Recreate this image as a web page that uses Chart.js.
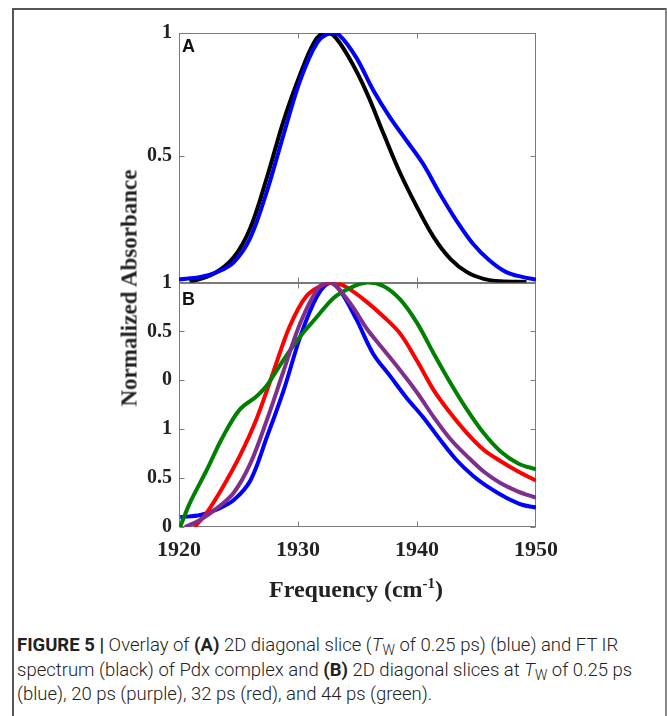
<!DOCTYPE html>
<html>
<head>
<meta charset="utf-8">
<script src="https://cdn.jsdelivr.net/npm/chart.js@4.4.0/dist/chart.umd.min.js"></script>
<style>
  body { margin: 0; background: #fff; width: 667px; height: 716px; overflow: hidden; position: relative; }
  #frame { position: absolute; left: 12px; top: 8px; width: 651px; height: 760px; border: 2px solid #555; border-right-color: #888; }
  #wrap { position: absolute; left: 0; top: 0; width: 600px; height: 610px; }
  .serif { position: absolute; white-space: nowrap; font-family: "Liberation Serif", "DejaVu Serif", serif; font-weight: bold; color: #222; line-height: 1; }
  #ytitle { font-size: 23px; left: 129px; top: 288px; transform: translate(-50%, -50%) rotate(-90deg); }
  #xtitle { font-size: 24px; left: 356px; top: 589px; transform: translate(-50%, -50%); }
  #xtitle sup { font-size: 0.62em; line-height: 0; vertical-align: 0.6em; }
  .panel { position: absolute; font-family: "Liberation Sans", Arial, sans-serif; font-weight: bold; font-size: 18px; line-height: 18px; color: #111; }
  #caption { position: absolute; left: 17px; top: 633px; font-family: Roboto, "Liberation Sans", sans-serif; font-weight: 300; font-size: 18.5px; line-height: 24.5px; color: #222; white-space: nowrap; }
  #caption b { font-weight: 700; }
  #caption sub { font-size: 0.75em; line-height: 0; vertical-align: -0.3em; }
</style>
</head>
<body>
<div id="frame"></div>
<div id="wrap"><canvas id="chart" width="600" height="610"></canvas></div>
<div class="serif" id="ytitle">Normalized Absorbance</div>
<div class="serif" id="xtitle">Frequency (cm<sup>-1</sup>)</div>
<div class="panel" style="left:182px; top:37px;">A</div>
<div class="panel" style="left:182px; top:290px;">B</div>
<div id="caption">
<b>FIGURE 5 |</b> Overlay of <b>(A)</b> 2D diagonal slice (<i>T</i><sub>W</sub> of 0.25 ps) (blue) and FT IR<br>
spectrum (black) of Pdx complex and <b>(B)</b> 2D diagonal slices at <i>T</i><sub>W</sub> of 0.25 ps<br>
(blue), 20 ps (purple), 32 ps (red), and 44 ps (green).
</div>
<script>
// tick values / labels
const xTicks = [1920, 1930, 1940, 1950];
const tickValsA = [0.5, 1];
const tickLabelsA = ["0.5", "1"];
const tickValsB = [0, 0.2, 0.4, 0.6, 0.8, 1];
const tickLabelsB = ["0", "0.5", "1", "0", "0.5", "1"];

// --- Panel A ---
// FT IR spectrum (black)
const freqFtir = [1920.9, 1922.9, 1924.6, 1926.0, 1927.4, 1928.8, 1930.2, 1931.3, 1932.1, 1933.0, 1934.4,
  1935.8, 1937.2, 1938.6, 1940.0, 1941.4, 1942.8, 1944.2, 1945.6, 1947.0, 1949.2];
const absFtir = [-0.01, 0.023, 0.09, 0.21, 0.416, 0.646, 0.835, 0.958, 1.0, 0.99, 0.89,
  0.755, 0.59, 0.43, 0.294, 0.172, 0.084, 0.03, 0.003, -0.007, -0.01];
// 2D diagonal slice, Tw = 0.25 ps (blue)
const freqSliceA = [1920.0, 1921.8, 1923.2, 1924.6, 1926.0, 1927.4, 1928.8, 1930.2, 1931.6, 1932.7, 1933.5,
  1934.9, 1936.3, 1937.7, 1939.1, 1940.5, 1941.9, 1943.3, 1944.7, 1946.1, 1947.5, 1948.9, 1950.0];
const absSliceA = [0.0, 0.01, 0.03, 0.07, 0.17, 0.36, 0.59, 0.81, 0.96, 1.0, 0.99,
  0.90, 0.77, 0.66, 0.565, 0.47, 0.35, 0.24, 0.145, 0.077, 0.03, 0.01, 0.0];

// --- Panel B ---
// 0.25 ps (blue)
const freqB025 = [1920.1, 1921.8, 1923.2, 1924.6, 1926.0, 1927.4, 1928.8, 1930.2, 1931.6, 1932.7, 1933.5,
  1934.9, 1936.3, 1937.7, 1939.1, 1940.5, 1941.9, 1943.3, 1944.7, 1946.1, 1947.5, 1948.9, 1950.0];
const absB025 = [0.04, 0.049, 0.072, 0.11, 0.19, 0.37, 0.56, 0.78, 0.944, 1.0, 0.97,
  0.85, 0.71, 0.62, 0.53, 0.45, 0.36, 0.275, 0.21, 0.16, 0.12, 0.09, 0.08];
// 20 ps (purple)
const freqB20 = [1920.5, 1921.8, 1923.2, 1924.6, 1926.0, 1927.4, 1928.8, 1930.2, 1931.6, 1932.4, 1933.2,
  1934.6, 1935.8, 1937.2, 1938.6, 1940.0, 1941.4, 1942.8, 1944.2, 1945.6, 1947.0, 1948.5, 1950.0];
const absB20 = [0.0, 0.03, 0.077, 0.14, 0.26, 0.44, 0.64, 0.835, 0.97, 1.0, 0.985,
  0.90, 0.81, 0.725, 0.64, 0.55, 0.45, 0.36, 0.29, 0.227, 0.18, 0.145, 0.12];
// 32 ps (red)
const freqB32 = [1921.3, 1922.3, 1923.7, 1925.1, 1926.5, 1927.9, 1929.3, 1930.7, 1932.1, 1933.0, 1934.1,
  1935.8, 1937.2, 1938.6, 1940.0, 1941.4, 1942.8, 1944.2, 1945.6, 1947.0, 1948.5, 1950.0];
const absB32 = [0.0, 0.056, 0.165, 0.29, 0.44, 0.63, 0.82, 0.944, 0.99, 1.0, 0.98,
  0.92, 0.86, 0.79, 0.68, 0.56, 0.466, 0.384, 0.316, 0.27, 0.227, 0.19];
// 44 ps (green)
const freqB44 = [1920.1, 1920.9, 1922.3, 1923.7, 1925.1, 1926.5, 1927.4, 1928.8, 1930.2, 1931.6, 1933.0,
  1934.4, 1935.8, 1937.2, 1938.6, 1940.0, 1941.4, 1942.8, 1944.2, 1945.6, 1947.0, 1948.5, 1950.0];
const absB44 = [0.0, 0.097, 0.23, 0.37, 0.48, 0.534, 0.58, 0.685, 0.78, 0.86, 0.937,
  0.978, 1.0, 0.985, 0.93, 0.835, 0.71, 0.59, 0.48, 0.384, 0.31, 0.26, 0.236];

const serif = "'Liberation Serif', 'DejaVu Serif', serif";

function pts(xs, ys) {
  return xs.map((x, i) => ({ x: x, y: ys[i] }));
}

function line(data, color, axis) {
  return {
    data: data,
    yAxisID: axis,
    borderColor: color,
    borderWidth: 4,
    pointRadius: 0,
    fill: false,
    tension: 0.35,
  };
}

// box around each panel with inward ticks, matlab style
const framePlugin = {
  id: "framePlugin",
  beforeDatasetsDraw(chart) {
    const { ctx, chartArea: ca, scales } = chart;
    ctx.save();
    ctx.strokeStyle = "#7a7a7a";
    ctx.lineWidth = 1;
    const seg = (x1, y1, x2, y2) => {
      ctx.beginPath();
      ctx.moveTo(x1, y1);
      ctx.lineTo(x2, y2);
      ctx.stroke();
    };
    [scales.yA, scales.yB].forEach((ys) => {
      const top = Math.round(ys.top) + 0.5;
      const bot = Math.round(ys.bottom) - 0.5;
      const left = Math.round(ca.left) + 0.5;
      const right = Math.round(ca.right) - 0.5;
      ctx.strokeRect(left, top, right - left, bot - top);
      xTicks.slice(1, -1).forEach((v) => {
        const x = Math.round(scales.x.getPixelForValue(v)) + 0.5;
        seg(x, top, x, top + 5);
        seg(x, bot, x, bot - 5);
      });
      ys.ticks.forEach((t) => {
        const y = Math.round(ys.getPixelForValue(t.value)) + 0.5;
        seg(left, y, left + 5, y);
        seg(right, y, right - 5, y);
      });
    });
    ctx.restore();
  },
};

const tickFont = { family: serif, weight: "bold", size: 20 };

new Chart(document.getElementById("chart"), {
  type: "line",
  data: {
    datasets: [
      line(pts(freqSliceA, absSliceA), "#0000ff", "yA"),
      line(pts(freqFtir, absFtir), "#000000", "yA"),
      line(pts(freqB20, absB20), "#7e2f8e", "yB"),
      line(pts(freqB44, absB44), "#008000", "yB"),
      line(pts(freqB32, absB32), "#ff0000", "yB"),
      line(pts(freqB025, absB025), "#0000ff", "yB"),
    ],
  },
  options: {
    responsive: false,
    devicePixelRatio: 1,
    animation: false,
    layout: { padding: { top: 33, right: 64, left: 0, bottom: 0 } },
    plugins: { legend: { display: false }, tooltip: { enabled: false } },
    scales: {
      x: {
        type: "linear",
        min: 1920,
        max: 1950,
        afterBuildTicks: (s) => { s.ticks = xTicks.map((v) => ({ value: v })); },
        afterFit: (s) => { s.height = 83; },
        grid: { display: false, drawTicks: false },
        border: { display: false },
        ticks: { padding: 10, maxRotation: 0, autoSkip: false, color: "#222",
          font: { family: serif, weight: "bold", size: 22 }, callback: (v) => String(v) },
      },
      yB: {
        type: "linear",
        position: "left",
        stack: "panels",
        stackWeight: 244,
        min: 0,
        max: 1,
        afterBuildTicks: (s) => { s.ticks = tickValsB.map((v) => ({ value: v })); },
        afterFit: (s) => { s.width = 179; },
        grid: { display: false, drawTicks: false },
        border: { display: false },
        ticks: { padding: 7, autoSkip: false, color: "#222", font: tickFont,
          callback: (v) => tickLabelsB[tickValsB.indexOf(v)] },
      },
      yA: {
        type: "linear",
        position: "left",
        stack: "panels",
        stackWeight: 249,
        min: -0.012,
        max: 1,
        afterBuildTicks: (s) => { s.ticks = tickValsA.map((v) => ({ value: v })); },
        afterFit: (s) => { s.width = 179; },
        grid: { display: false, drawTicks: false },
        border: { display: false },
        ticks: { padding: 7, autoSkip: false, color: "#222", font: tickFont,
          callback: (v) => tickLabelsA[tickValsA.indexOf(v)] },
      },
    },
  },
  plugins: [framePlugin],
});
</script>
</body>
</html>
